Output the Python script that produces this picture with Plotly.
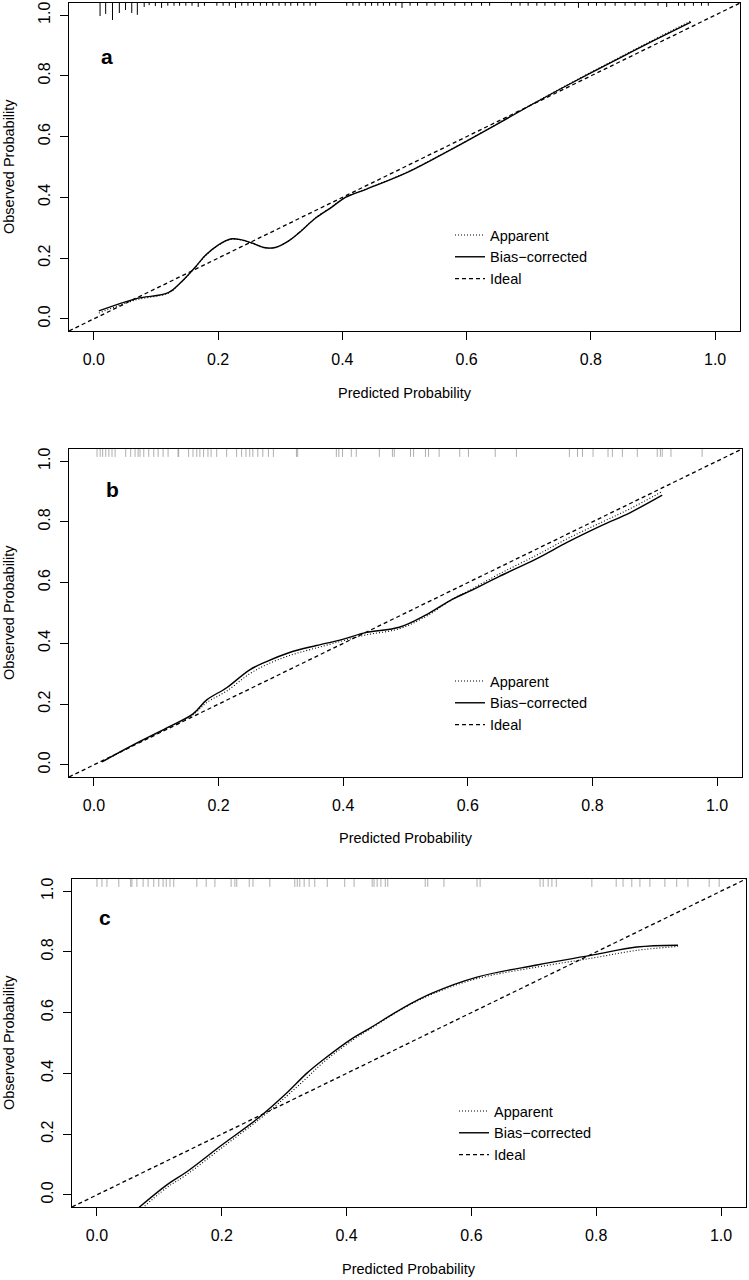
import plotly.graph_objects as go

# ---- panel a ----
bias_a_x = [0.008, 0.067, 0.12, 0.139, 0.163, 0.18, 0.20, 0.22, 0.238, 0.254, 0.276, 0.292, 0.313, 0.33,
            0.357, 0.383, 0.405, 0.44, 0.50, 0.55, 0.60, 0.65, 0.70, 0.75, 0.80, 0.85, 0.90, 0.961]
bias_a_y = [0.026, 0.066, 0.086, 0.118, 0.17, 0.21, 0.243, 0.263, 0.26, 0.25, 0.234, 0.235, 0.256, 0.283,
            0.332, 0.368, 0.400, 0.428, 0.478, 0.53, 0.585, 0.642, 0.70, 0.756, 0.81, 0.863, 0.915, 0.977]
app_a_x = [0.008, 0.067, 0.12, 0.139, 0.163, 0.18, 0.20, 0.22, 0.238, 0.254, 0.276, 0.292, 0.313, 0.33,
           0.357, 0.383, 0.405, 0.44, 0.50, 0.55, 0.60, 0.65, 0.70, 0.75, 0.80, 0.85, 0.90, 0.961]
app_a_y = [0.019, 0.062, 0.085, 0.117, 0.169, 0.209, 0.242, 0.262, 0.259, 0.249, 0.234, 0.235, 0.256, 0.284,
           0.333, 0.369, 0.401, 0.429, 0.479, 0.531, 0.586, 0.643, 0.701, 0.757, 0.812, 0.865, 0.918, 0.981]
rug_a_x = [0.010, 0.019, 0.030, 0.041, 0.051, 0.061, 0.070, 0.081, 0.089, 0.099, 0.109, 0.119, 0.129,
           0.138, 0.148, 0.158, 0.168, 0.178, 0.198, 0.208, 0.218, 0.228, 0.238, 0.248, 0.257, 0.268,
           0.278, 0.288, 0.298, 0.308, 0.317, 0.328, 0.338, 0.348, 0.357, 0.407, 0.417, 0.427, 0.437,
           0.447, 0.457, 0.466, 0.476, 0.486, 0.496, 0.509, 0.521, 0.536, 0.549, 0.563, 0.581, 0.597,
           0.608, 0.624, 0.637, 0.672, 0.686, 0.699, 0.713, 0.726, 0.742, 0.758, 0.780, 0.796, 0.809,
           0.823, 0.839, 0.855, 0.871, 0.887, 0.908, 0.922, 0.941, 0.951, 0.965, 0.978, 0.989]
rug_a_h = [0.043, 0.036, 0.056, 0.033, 0.023, 0.033, 0.039, 0.013, 0.007, 0.010, 0.016, 0.009, 0.009,
           0.009, 0.009, 0.009, 0.013, 0.009, 0.009, 0.009, 0.009, 0.016, 0.009, 0.009, 0.009, 0.009,
           0.009, 0.009, 0.009, 0.009, 0.009, 0.009, 0.009, 0.009, 0.009, 0.009, 0.009, 0.009, 0.009,
           0.009, 0.009, 0.009, 0.009, 0.009, 0.016, 0.009, 0.009, 0.009, 0.009, 0.009, 0.009, 0.009,
           0.009, 0.009, 0.009, 0.009, 0.009, 0.009, 0.009, 0.009, 0.009, 0.009, 0.016, 0.009, 0.009,
           0.009, 0.009, 0.009, 0.009, 0.009, 0.009, 0.013, 0.009, 0.009, 0.009, 0.009, 0.009]

# ---- panel b ----
bias_b_x = [0.013, 0.063, 0.117, 0.159, 0.181, 0.213, 0.25, 0.277, 0.314, 0.357, 0.399, 0.437, 0.49,
            0.534, 0.575, 0.603, 0.65, 0.71, 0.76, 0.816, 0.86, 0.912]
bias_b_y = [0.010, 0.066, 0.122, 0.168, 0.214, 0.254, 0.313, 0.34, 0.37, 0.393, 0.413, 0.436, 0.453,
            0.495, 0.545, 0.572, 0.62, 0.678, 0.733, 0.789, 0.83, 0.888]
app_b_x = [0.013, 0.063, 0.117, 0.159, 0.181, 0.213, 0.25, 0.277, 0.314, 0.357, 0.399, 0.437, 0.49,
           0.534, 0.575, 0.603, 0.65, 0.71, 0.76, 0.816, 0.86, 0.912]
app_b_y = [0.010, 0.064, 0.12, 0.165, 0.205, 0.243, 0.30, 0.33, 0.36, 0.385, 0.408, 0.428, 0.448,
           0.49, 0.545, 0.575, 0.628, 0.69, 0.745, 0.80, 0.843, 0.90]
rug_b_x = [0.005, 0.010, 0.014, 0.019, 0.024, 0.029, 0.034, 0.051, 0.059, 0.066, 0.071, 0.074, 0.080,
           0.088, 0.096, 0.103, 0.111, 0.119, 0.135, 0.136, 0.152, 0.159, 0.165, 0.170, 0.176, 0.183,
           0.188, 0.197, 0.213, 0.229, 0.237, 0.244, 0.250, 0.255, 0.263, 0.271, 0.280, 0.288, 0.325,
           0.327, 0.389, 0.393, 0.399, 0.413, 0.421, 0.458, 0.479, 0.482, 0.508, 0.513, 0.532, 0.537,
           0.554, 0.587, 0.601, 0.644, 0.678, 0.763, 0.776, 0.784, 0.801, 0.825, 0.832, 0.848, 0.872,
           0.904, 0.909, 0.912, 0.926, 0.976]

# ---- panel c ----
bias_c_x = [0.055, 0.112, 0.144, 0.20, 0.261, 0.304, 0.336, 0.362, 0.41, 0.4375, 0.49, 0.537, 0.609,
            0.705, 0.795, 0.865, 0.931]
bias_c_y = [-0.063, 0.033, 0.076, 0.164, 0.257, 0.335, 0.40, 0.444, 0.516, 0.549, 0.615, 0.664, 0.717,
            0.757, 0.79, 0.816, 0.822]
app_c_x = [0.062, 0.112, 0.144, 0.20, 0.261, 0.304, 0.336, 0.362, 0.41, 0.4375, 0.49, 0.537, 0.609,
           0.705, 0.795, 0.865, 0.931]
app_c_y = [-0.063, 0.024, 0.067, 0.155, 0.25, 0.325, 0.385, 0.435, 0.51, 0.546, 0.613, 0.661, 0.712,
           0.75, 0.78, 0.805, 0.818]
rug_c_x = [0.0, 0.008, 0.016, 0.035, 0.054, 0.056, 0.064, 0.074, 0.082, 0.091, 0.099, 0.106, 0.111,
           0.117, 0.123, 0.160, 0.175, 0.189, 0.215, 0.221, 0.224, 0.244, 0.250, 0.277, 0.317, 0.321,
           0.325, 0.332, 0.340, 0.349, 0.369, 0.397, 0.412, 0.441, 0.444, 0.449, 0.455, 0.462, 0.466,
           0.526, 0.530, 0.556, 0.609, 0.614, 0.710, 0.715, 0.723, 0.729, 0.736, 0.793, 0.832, 0.843,
           0.857, 0.870, 0.886, 0.910, 0.929, 0.947, 0.981, 0.997]

ideal_x = [-0.06, 1.06]
ideal_y = [-0.06, 1.06]

panel_labels = ["a", "b", "c"]
legend_names = ["Apparent", "Bias\u2212corrected", "Ideal"]

W, H = 749, 1280
FONT = "Liberation Sans, Arial, sans-serif"

# pixel boxes of the three plot regions: left, right, top, bottom
boxes = [(69, 740, 3, 331), (69, 742, 449, 777), (72, 746, 879, 1207)]
legend_pos = [(450, 219), (450, 665), (454, 1095)]
label_pos = [(0.021, 0.865), (0.030, 0.908), (0.013, 0.912)]
xtitle_y = [393, 838, 1269]

panels = [
    (app_a_x, app_a_y, bias_a_x, bias_a_y, rug_a_x, rug_a_h, "black", 1.0),
    (app_b_x, app_b_y, bias_b_x, bias_b_y, rug_b_x, [0.026] * len(rug_b_x), "#999999", 0.8),
    (app_c_x, app_c_y, bias_c_x, bias_c_y, rug_c_x, [0.026] * len(rug_c_x), "#999999", 0.8),
]

fig = go.Figure()
annotations = []
TOP = 1.04

for i, (ax, ay, bx, by, rx, rh, rc, rw) in enumerate(panels):
    n = i + 1
    xa = "x" if n == 1 else "x%d" % n
    ya = "y" if n == 1 else "y%d" % n
    lg = "legend" if n == 1 else "legend%d" % n

    # rug of predicted values along the top
    rug_xs, rug_ys = [], []
    for x, h in zip(rx, rh):
        rug_xs += [x, x, None]
        rug_ys += [TOP, TOP - h, None]
    fig.add_trace(go.Scatter(x=rug_xs, y=rug_ys, mode="lines", xaxis=xa, yaxis=ya,
                             line=dict(color=rc, width=rw), showlegend=False, hoverinfo="skip"))

    fig.add_trace(go.Scatter(x=ax, y=ay, mode="lines", name=legend_names[0], xaxis=xa, yaxis=ya,
                             legend=lg, line=dict(color="black", width=1.1, dash="1px,2px", shape="spline")))
    fig.add_trace(go.Scatter(x=bx, y=by, mode="lines", name=legend_names[1], xaxis=xa, yaxis=ya,
                             legend=lg, line=dict(color="black", width=1.4, shape="spline")))
    fig.add_trace(go.Scatter(x=ideal_x, y=ideal_y, mode="lines", name=legend_names[2], xaxis=xa, yaxis=ya,
                             legend=lg, line=dict(color="black", width=1.3, dash="4px,3px")))

    l, r, t, b = boxes[i]
    axis_common = dict(range=[-0.04, 1.04], tickvals=[0, 0.2, 0.4, 0.6, 0.8, 1.0],
                       ticktext=["0.0", "0.2", "0.4", "0.6", "0.8", "1.0"],
                       showline=True, linecolor="black", linewidth=1.2, mirror=True,
                       ticks="outside", ticklen=8, tickwidth=1.2, tickcolor="black",
                       showgrid=False, zeroline=False,
                       tickfont=dict(family=FONT, size=16, color="black"))
    fig.update_layout({
        ("xaxis" if n == 1 else "xaxis%d" % n): dict(
            axis_common, domain=[l / W, r / W], anchor=ya, ticklabelstandoff=6),
        ("yaxis" if n == 1 else "yaxis%d" % n): dict(
            axis_common, domain=[1 - b / H, 1 - t / H], anchor=xa, tickangle=-90,
            ticklabelstandoff=4),
        lg: dict(x=legend_pos[i][0] / W, y=1 - legend_pos[i][1] / H, xanchor="left", yanchor="top",
                 bgcolor="rgba(0,0,0,0)", tracegroupgap=0, itemwidth=30,
                 font=dict(family=FONT, size=14.5, color="black")),
    })

    annotations.append(dict(x=label_pos[i][0], y=label_pos[i][1], xref=xa, yref=ya,
                            text="<b>%s</b>" % panel_labels[i], showarrow=False,
                            xanchor="center", yanchor="middle",
                            font=dict(family=FONT, size=21, color="black")))
    annotations.append(dict(x=(l + r) / 2 / W, y=1 - xtitle_y[i] / H, xref="paper", yref="paper",
                            text="Predicted Probability", showarrow=False,
                            xanchor="center", yanchor="middle",
                            font=dict(family=FONT, size=14.5, color="black")))
    annotations.append(dict(x=9 / W, y=1 - (t + b) / 2 / H, xref="paper", yref="paper",
                            text="Observed Probability", showarrow=False, textangle=-90,
                            xanchor="center", yanchor="middle",
                            font=dict(family=FONT, size=14.5, color="black")))

fig.update_layout(width=W, height=H, margin=dict(l=0, r=0, t=0, b=0),
                  paper_bgcolor="white", plot_bgcolor="white", annotations=annotations)

# the page keeps the browser's default body margin otherwise
fig.write_html("out.html", config={"displayModeBar": False},
               post_script="document.body.style.margin = '0';")
